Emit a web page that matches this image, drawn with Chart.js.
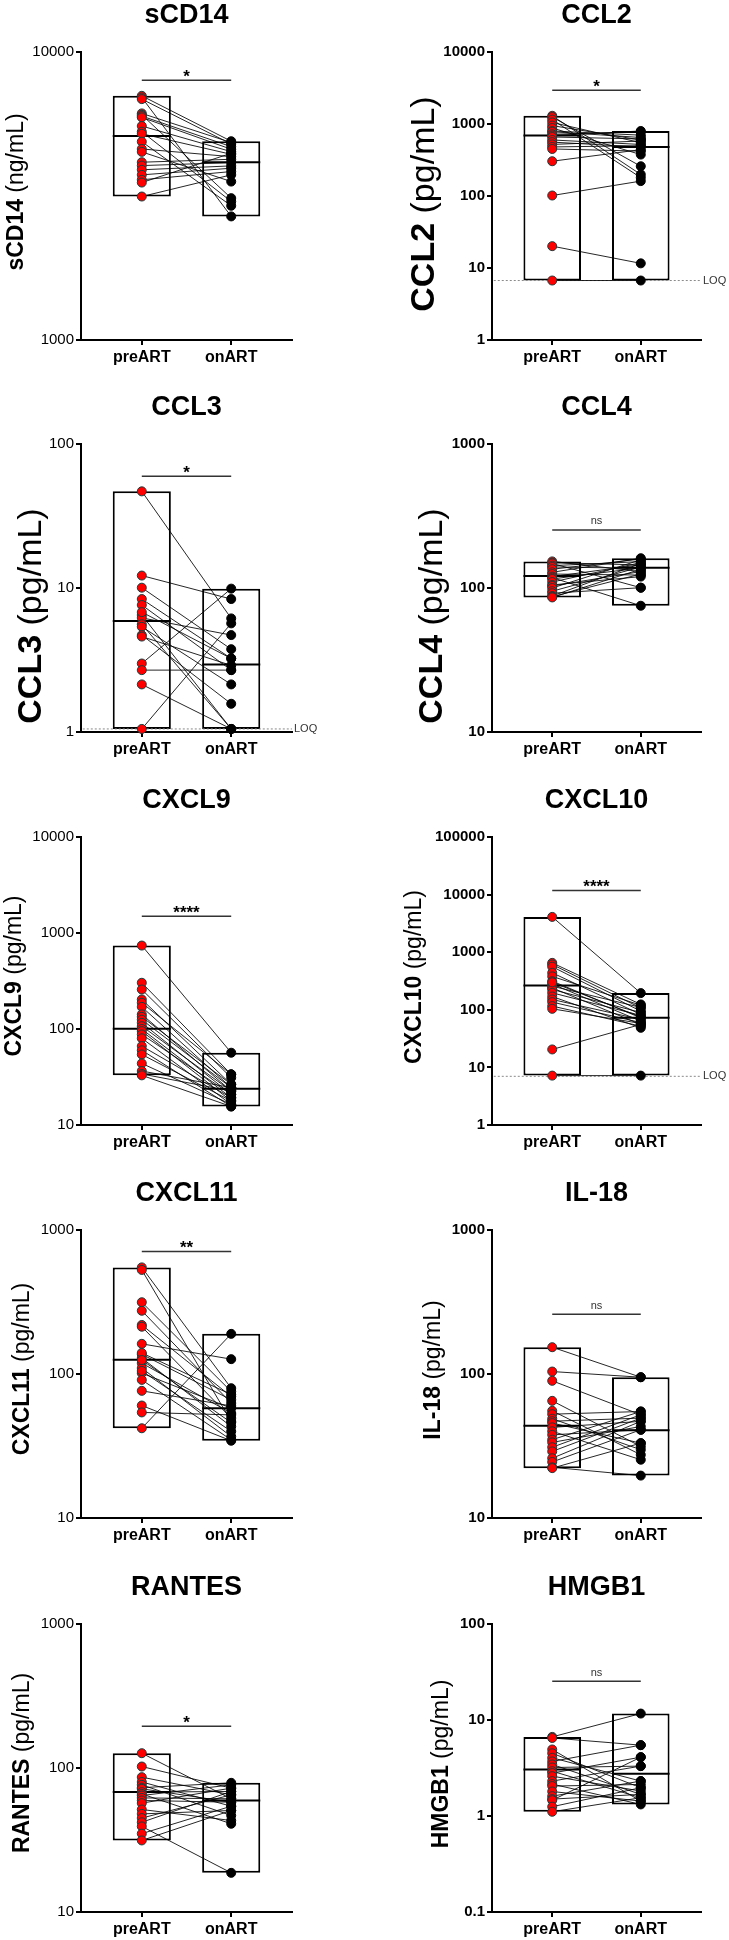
<!DOCTYPE html>
<html>
<head>
<meta charset="utf-8">
<script src="https://cdn.jsdelivr.net/npm/chart.js@4.4.0/dist/chart.umd.min.js"></script>
<style>
  html, body { margin: 0; padding: 0; background: #fff; }
  body { width: 729px; height: 1940px; position: relative; overflow: hidden; }
  canvas { position: absolute; }
</style>
</head>
<body>
<script>
// Groups
// ------------------------------
var groups = ['preART', 'onART'];

// sCD14 (ng/mL)
var sCD14_pre = [7044, 6950, 6862, 6120, 6050, 5992, 5928, 5533, 5287, 5200, 4883, 4606, 4500, 4143, 4033, 3900, 3745, 3600, 3521, 3149];
var sCD14_on = [4900, 2686, 4793, 4850, 3109, 4692, 4595, 4508, 3027, 4413, 2925, 4331, 3549, 4241, 4130, 4023, 3949, 3845, 4450, 3745];
var sCD14_median = [5108, 4140];
var sCD14_ticks = [1000, 10000];
var sCD14_sig = 7980;

// CCL2 (pg/mL)
var CCL2_pre = [1300, 1250, 1150, 1050, 950, 880, 800, 780, 720, 690, 660, 600, 560, 520, 480, 450, 304, 101.6, 20.1, 6.7];
var CCL2_on = [199, 259, 180, 550, 600, 376, 700, 650, 780, 800, 620, 520, 480, 580, 500, 420, 440, 161, 11.6, 6.7];
var CCL2_median = [691, 481];
var CCL2_ticks = [1, 10, 100, 1000, 10000];
var CCL2_sig = 2940;
var CCL2_loq = 6.7;

// CCL3 (pg/mL)
var CCL3_pre = [46.9, 12.2, 10.05, 8.38, 7.62, 6.49, 6.2, 5.6, 5.38, 4.71, 4.6, 2.99, 2.69, 2.14, 1.05, 6.8];
var CCL3_on = [6.15, 8.38, 3.76, 3.24, 2.69, 1.05, 4.71, 1.05, 2.14, 1.57, 2.9, 9.9, 2.69, 1.05, 5.68, 3.24];
var CCL3_median = [5.89, 2.94];
var CCL3_ticks = [1, 10, 100];
var CCL3_sig = 59.6;
var CCL3_loq = 1.05;

// CCL4 (pg/mL)
var CCL4_pre = [153, 150, 148, 143, 140, 135, 128.5, 125, 120, 118, 115.6, 110, 105, 103.3, 100, 95, 92, 88, 87, 86];
var CCL4_on = [130, 144.5, 100.5, 152.5, 137, 159, 161, 123, 145, 75.3, 138, 150, 120, 130, 157, 140, 100.5, 148, 125, 135];
var CCL4_median = [121.2, 138.5];
var CCL4_ticks = [10, 100, 1000];
var CCL4_sig = 253;

// CXCL9 (pg/mL)
var CXCL9_pre = [740, 303, 258, 203, 187.6, 170, 142, 134, 125, 116, 107, 100, 95, 87.8, 80, 66.4, 60, 54.3, 43.8, 36.5, 34, 32.9];
var CXCL9_on = [56.6, 33.7, 31.1, 26.5, 33.7, 24.5, 22.6, 26.5, 24.5, 20.8, 22.6, 19.2, 17.8, 20.8, 16.4, 19.2, 15.6, 17.8, 16.4, 24.5, 22.6, 15.6];
var CXCL9_median = [100.5, 23.9];
var CXCL9_ticks = [10, 100, 1000, 10000];
var CXCL9_sig = 1496;

// CXCL10 (pg/mL)
var CXCL10_pre = [4100, 653, 611, 560, 439, 380, 314, 280, 257, 240, 225, 197, 170, 151, 136, 116, 104, 20.5, 7.2, 300];
var CXCL10_on = [195, 124, 108, 94.8, 83, 120, 72.6, 63.6, 110, 55.7, 90, 80, 48.7, 68, 60, 52, 58, 55.7, 7.2, 75];
var CXCL10_median = [264, 72.6];
var CXCL10_ticks = [1, 10, 100, 1000, 10000, 100000];
var CXCL10_sig = 11730;
var CXCL10_loq = 7;

// CXCL11 (pg/mL)
var CXCL11_pre = [550, 528, 315, 275, 219, 213, 162, 137, 129, 119, 110, 101.4, 91, 76.4, 60.4, 54.1, 42, 140, 105, 125];
var CXCL11_on = [79.7, 46.9, 75.6, 62.8, 69.8, 49.4, 126.8, 66.2, 43.2, 53.5, 36.8, 57.9, 34.9, 60, 34.4, 52, 190, 72, 40, 46];
var CXCL11_median = [125.4, 57.9];
var CXCL11_ticks = [10, 100, 1000];
var CXCL11_sig = 708;

// IL-18 (pg/mL)
var IL18_pre = [153.5, 104, 89.7, 65.1, 55.5, 52.6, 48.9, 47, 45.6, 42.6, 40, 37.8, 35, 33.5, 31, 29, 26, 24.5, 22.5, 22.2];
var IL18_on = [95, 95, 52.1, 31.4, 27.5, 54.9, 29.8, 49.4, 33.1, 46.9, 25.4, 41, 54.9, 43.2, 52.1, 49.4, 46.9, 41, 19.7, 33.1];
var IL18_median = [43.7, 40.6];
var IL18_ticks = [10, 100, 1000];
var IL18_sig = 260;

// RANTES (pg/mL)
var RANTES_pre = [126.7, 102.4, 86.4, 80, 76.4, 73, 71.7, 68, 66, 64.4, 62, 59.5, 57, 51.5, 48, 44.9, 42, 39.3, 35, 31.4];
var RANTES_on = [61.1, 72.5, 65.1, 54.3, 46.8, 78.9, 57.9, 68.7, 41, 76.4, 61.1, 57.9, 72.5, 43.2, 50.7, 65.1, 68.7, 18.7, 54.3, 50.7];
var RANTES_median = [68, 59.5];
var RANTES_ticks = [10, 100, 1000];
var RANTES_sig = 195;

// HMGB1 (pg/mL)
var HMGB1_pre = [6.67, 6.5, 4.93, 4.5, 4.04, 3.7, 3.44, 3.2, 2.93, 2.8, 2.6, 2.31, 2.15, 2.05, 1.8, 1.61, 1.5, 1.46, 1.25, 1.107];
var HMGB1_on = [11.67, 5.47, 1.43, 1.97, 2.31, 5.47, 1.68, 3.31, 1.55, 4.10, 1.82, 3.31, 1.32, 2.13, 1.43, 2.31, 1.68, 4.10, 1.97, 1.55];
var HMGB1_median = [3.05, 2.75];
var HMGB1_ticks = [0.1, 1, 10, 100];
var HMGB1_sig = 25.3;


// Panels
// ------------------------------
var panels = [
    { name: 'sCD14',  unit: '(ng/mL)', pre: sCD14_pre,  on: sCD14_on,  median: sCD14_median,  ticks: sCD14_ticks,  sig: sCD14_sig,  star: '*',    loq: null,
      col: 0, row: 0, yTitleX: 17, yTitleDy: -4, yTitleSize: 23 },
    { name: 'CCL2',   unit: '(pg/mL)', pre: CCL2_pre,   on: CCL2_on,   median: CCL2_median,   ticks: CCL2_ticks,   sig: CCL2_sig,   star: '*',    loq: CCL2_loq,
      col: 1, row: 0, yTitleX: 61, yTitleDy: 8, yTitleSize: 34 },
    { name: 'CCL3',   unit: '(pg/mL)', pre: CCL3_pre,   on: CCL3_on,   median: CCL3_median,   ticks: CCL3_ticks,   sig: CCL3_sig,   star: '*',    loq: CCL3_loq,
      col: 0, row: 1, yTitleX: 32, yTitleDy: 28, yTitleSize: 34 },
    { name: 'CCL4',   unit: '(pg/mL)', pre: CCL4_pre,   on: CCL4_on,   median: CCL4_median,   ticks: CCL4_ticks,   sig: CCL4_sig,   star: 'ns',   loq: null,
      col: 1, row: 1, yTitleX: 69, yTitleDy: 28, yTitleSize: 34 },
    { name: 'CXCL9',  unit: '(pg/mL)', pre: CXCL9_pre,  on: CXCL9_on,  median: CXCL9_median,  ticks: CXCL9_ticks,  sig: CXCL9_sig,  star: '****', loq: null,
      col: 0, row: 2, yTitleX: 15, yTitleDy: -5, yTitleSize: 23 },
    { name: 'CXCL10', unit: '(pg/mL)', pre: CXCL10_pre, on: CXCL10_on, median: CXCL10_median, ticks: CXCL10_ticks, sig: CXCL10_sig, star: '****', loq: CXCL10_loq,
      col: 1, row: 2, yTitleX: 51, yTitleDy: -4, yTitleSize: 23 },
    { name: 'CXCL11', unit: '(pg/mL)', pre: CXCL11_pre, on: CXCL11_on, median: CXCL11_median, ticks: CXCL11_ticks, sig: CXCL11_sig, star: '**',   loq: null,
      col: 0, row: 3, yTitleX: 23, yTitleDy: -5, yTitleSize: 23 },
    { name: 'IL-18',  unit: '(pg/mL)', pre: IL18_pre,   on: IL18_on,   median: IL18_median,   ticks: IL18_ticks,   sig: IL18_sig,   star: 'ns',   loq: null,
      col: 1, row: 3, yTitleX: 70, yTitleDy: -4, yTitleSize: 23 },
    { name: 'RANTES', unit: '(pg/mL)', pre: RANTES_pre, on: RANTES_on, median: RANTES_median, ticks: RANTES_ticks, sig: RANTES_sig, star: '*',    loq: null,
      col: 0, row: 4, yTitleX: 23, yTitleDy: -5, yTitleSize: 23 },
    { name: 'HMGB1',  unit: '(pg/mL)', pre: HMGB1_pre,  on: HMGB1_on,  median: HMGB1_median,  ticks: HMGB1_ticks,  sig: HMGB1_sig,  star: 'ns',   loq: null,
      col: 1, row: 4, yTitleX: 78, yTitleDy: -4, yTitleSize: 23 }
];

var FONT = '"Liberation Sans", Arial, Helvetica, sans-serif';
Chart.defaults.font.family = FONT;
Chart.defaults.color = '#000';

var rowTops = [-8, 384, 777, 1170, 1564];
var CANVAS_H = 388;
var HALF_BOX = 0.325;

function makePanel(p) {
    var canv = document.createElement('canvas');
    var w = p.col ? 365 : 364;
    canv.width = w;
    canv.height = CANVAS_H;
    canv.style.left = (p.col ? 364 : 0) + 'px';
    canv.style.top = rowTops[p.row] + 'px';
    document.body.appendChild(canv);

    var axisLeft = p.col ? 128 : 81;
    var padRight = p.col ? 28 : 72;
    var groupVals = [p.pre, p.on];

    var datasets = [];

    // min - max boxes
    datasets.push({
        type: 'bar',
        data: groupVals.map(function (vals, g) {
            return { x: g, y: [Math.min.apply(null, vals), Math.max.apply(null, vals)] };
        }),
        backgroundColor: '#fff',
        borderColor: '#000',
        borderWidth: 2,
        borderSkipped: false,
        barPercentage: 0.65,
        categoryPercentage: 1,
        grouped: false,
        order: 10
    });

    // median lines
    [0, 1].forEach(function (g) {
        datasets.push({
            type: 'line',
            data: [{ x: g - HALF_BOX, y: p.median[g] }, { x: g + HALF_BOX, y: p.median[g] }],
            borderColor: '#000',
            borderWidth: 2,
            pointRadius: 0,
            order: 8
        });
    });

    // LOQ dotted line
    if (p.loq) {
        datasets.push({
            type: 'line',
            data: [{ x: -0.66, y: p.loq }, { x: 1.68, y: p.loq }],
            borderColor: '#8a8a8a',
            borderWidth: 1,
            borderDash: [2, 2],
            pointRadius: 0,
            order: 7
        });
    }

    // significance bar
    datasets.push({
        type: 'line',
        data: [{ x: 0, y: p.sig }, { x: 1, y: p.sig }],
        borderColor: '#333',
        borderWidth: 1.5,
        pointRadius: 0,
        order: 6
    });

    // paired lines
    p.pre.forEach(function (v, i) {
        datasets.push({
            type: 'line',
            data: [{ x: 0, y: v }, { x: 1, y: p.on[i] }],
            borderColor: 'rgba(0,0,0,0.85)',
            borderWidth: 1,
            pointRadius: 0,
            order: 3
        });
    });

    // points
    datasets.push({
        type: 'line',
        showLine: false,
        data: p.pre.map(function (v) { return { x: 0, y: v }; }),
        pointRadius: 4.5,
        pointBackgroundColor: '#ff0000',
        pointBorderColor: '#1e3b3b',
        pointBorderWidth: 1,
        clip: false,
        order: 2
    });
    datasets.push({
        type: 'line',
        showLine: false,
        data: p.on.map(function (v) { return { x: 1, y: v }; }),
        pointRadius: 4.5,
        pointBackgroundColor: '#000',
        pointBorderColor: '#000',
        pointBorderWidth: 1,
        clip: false,
        order: 1
    });

    var textPlugin = {
        id: 'panelText',
        afterDraw: function (chart) {
            var ctx = chart.ctx;
            var a = chart.chartArea;
            var xs = chart.scales.x;
            var ys = chart.scales.y;

            // y axis title, bold name + regular unit
            ctx.save();
            ctx.translate(p.yTitleX, (a.top + a.bottom) / 2 + p.yTitleDy);
            ctx.rotate(-Math.PI / 2);
            ctx.fillStyle = '#000';
            ctx.textBaseline = 'middle';
            ctx.textAlign = 'left';
            var bold = 'bold ' + p.yTitleSize + 'px ' + FONT;
            var reg = p.yTitleSize + 'px ' + FONT;
            ctx.font = bold;
            var w1 = ctx.measureText(p.name).width;
            ctx.font = reg;
            var w2 = ctx.measureText(' ' + p.unit).width;
            var x0 = -(w1 + w2) / 2;
            ctx.font = bold;
            ctx.fillText(p.name, x0, 0);
            ctx.font = reg;
            ctx.fillText(' ' + p.unit, x0 + w1, 0);
            ctx.restore();

            // significance label
            var sy = ys.getPixelForValue(p.sig);
            var sx = (xs.getPixelForValue(0) + xs.getPixelForValue(1)) / 2;
            ctx.save();
            ctx.textAlign = 'center';
            ctx.textBaseline = 'alphabetic';
            if (p.star === 'ns') {
                ctx.font = '11px ' + FONT;
                ctx.fillStyle = '#333';
                ctx.fillText('ns', sx, sy - 5.5);
            } else {
                ctx.font = 'bold 17px ' + FONT;
                ctx.fillStyle = '#000';
                ctx.fillText(p.star, sx, sy + 1.5);
            }

            // LOQ label
            if (p.loq) {
                ctx.font = '11px ' + FONT;
                ctx.textAlign = 'left';
                ctx.textBaseline = 'middle';
                ctx.fillStyle = '#333';
                ctx.fillText('LOQ', a.right + 2, ys.getPixelForValue(p.loq));
            }
            ctx.restore();
        }
    };

    return new Chart(canv, {
        type: 'bar',
        data: { datasets: datasets },
        plugins: [textPlugin],
        options: {
            responsive: false,
            animation: false,
            events: [],
            layout: { padding: { left: 0, right: padRight, top: 0, bottom: 0 } },
            plugins: {
                legend: { display: false },
                tooltip: { enabled: false },
                title: {
                    display: true,
                    text: p.name,
                    fullSize: false,
                    color: '#000',
                    font: { size: 27, weight: 'bold', lineHeight: 1 },
                    padding: { top: 10, bottom: 23 }
                }
            },
            scales: {
                x: {
                    type: 'linear',
                    min: -0.68,
                    max: 1.68,
                    offset: false,
                    afterBuildTicks: function (scale) {
                        scale.ticks = [{ value: 0 }, { value: 1 }];
                    },
                    afterFit: function (scale) { scale.height = 40; },
                    ticks: {
                        callback: function (value) { return groups[value]; },
                        font: { size: 16, weight: 'bold' },
                        color: '#000',
                        padding: 3,
                        autoSkip: false,
                        maxRotation: 0
                    },
                    grid: { offset: false, drawOnChartArea: false, drawTicks: true, tickLength: 5, color: '#000', lineWidth: 2 },
                    border: { display: true, color: '#000', width: 2 }
                },
                y: {
                    type: 'logarithmic',
                    min: p.ticks[0],
                    max: p.ticks[p.ticks.length - 1],
                    afterBuildTicks: function (scale) {
                        scale.ticks = p.ticks.map(function (v) { return { value: v }; });
                    },
                    afterFit: function (scale) { scale.width = axisLeft; },
                    ticks: {
                        callback: function (value) { return String(value); },
                        font: { size: 15, weight: p.col ? 'bold' : 'normal' },
                        color: '#000',
                        padding: 2,
                        autoSkip: false
                    },
                    grid: { drawOnChartArea: false, drawTicks: true, tickLength: 5, color: '#000', lineWidth: 2 },
                    border: { display: true, color: '#000', width: 2 }
                }
            }
        }
    });
}

panels.forEach(makePanel);
</script>
</body>
</html>
